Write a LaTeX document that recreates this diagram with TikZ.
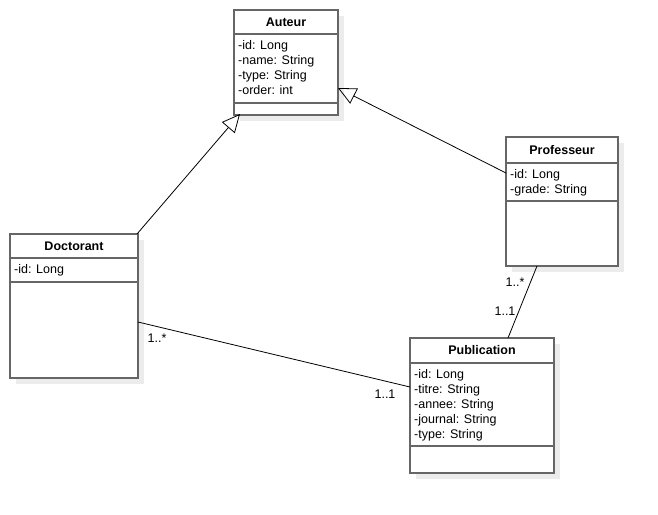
\documentclass[tikz,border=0pt]{standalone}
\usepackage{fontspec}
\setmainfont{Liberation Sans}
\usetikzlibrary{calc,arrows.meta}
\definecolor{boxline}{RGB}{102,102,102}
\definecolor{shadowc}{RGB}{236,236,236}
\tikzset{
  classbox/.style={draw=boxline, line width=1.5pt, fill=white, anchor=north west, inner sep=0pt, outer sep=0pt},
  classshadow/.style={fill=shadowc, draw=none, anchor=north west, inner sep=0pt, outer sep=0pt},
  divider/.style={draw=boxline, line width=1.5pt},
  ctitle/.style={font=\fontsize{12.5}{15}\selectfont\bfseries, anchor=center, inner sep=0pt},
  cattr/.style={font=\fontsize{12.5}{15}\selectfont, anchor=north west, align=left, inner sep=0pt},
  conn/.style={draw=black, line width=0.8pt},
  inherit/.style={conn, -{Triangle[open, length=18pt, width=17pt, line width=0.8pt]}},
  mult/.style={font=\fontsize{12.5}{15}\selectfont, inner sep=0pt},
}
\begin{document}
\begin{tikzpicture}[x=1pt,y=-1pt]
\path[fill=white] (0,0) rectangle (658,514);
\useasboundingbox (0,0) rectangle (658,514);

% shadows
\node[classshadow, minimum width=104pt, minimum height=105pt] (auteurS) at (240,16) {};
\node[classshadow, minimum width=112pt, minimum height=129pt] (profS) at (512,143) {};
\node[classshadow, minimum width=128pt, minimum height=144pt] (doctS) at (16,240) {};
\node[classshadow, minimum width=144pt, minimum height=135pt] (pubS) at (416,344) {};

% Auteur
\node[classbox, minimum width=104pt, minimum height=105pt] (auteur) at (234,10) {};
\node[ctitle] (auteurT) at ($(auteur.north)+(0,12)$) {Auteur};
\draw[divider] ($(auteur.north west)+(0,24)$) -- ($(auteur.north east)+(0,24)$);
\node[cattr] (auteurA) at ($(auteur.north west)+(4,30.5)$) {-id: Long\\-name: String\\-type: String\\-order: int};
\draw[divider] ($(auteur.north west)+(0,93)$) -- ($(auteur.north east)+(0,93)$);

% Professeur
\node[classbox, minimum width=112pt, minimum height=129pt] (prof) at (506,137) {};
\node[ctitle] (profT) at ($(prof.north)+(0,13)$) {Professeur};
\draw[divider] ($(prof.north west)+(0,26)$) -- ($(prof.north east)+(0,26)$);
\node[cattr] (profA) at ($(prof.north west)+(4,32)$) {-id: Long\\-grade: String};
\draw[divider] ($(prof.north west)+(0,64)$) -- ($(prof.north east)+(0,64)$);

% Doctorant
\node[classbox, minimum width=128pt, minimum height=144pt] (doct) at (10,234) {};
\node[ctitle] (doctT) at ($(doct.north)+(0,12)$) {Doctorant};
\draw[divider] ($(doct.north west)+(0,24)$) -- ($(doct.north east)+(0,24)$);
\node[cattr] (doctA) at ($(doct.north west)+(4,30.5)$) {-id: Long};
\draw[divider] ($(doct.north west)+(0,48)$) -- ($(doct.north east)+(0,48)$);

% Publication
\node[classbox, minimum width=144pt, minimum height=135pt] (pub) at (410,338) {};
\node[ctitle] (pubT) at ($(pub.north)+(0,12.5)$) {Publication};
\draw[divider] ($(pub.north west)+(0,25)$) -- ($(pub.north east)+(0,25)$);
\node[cattr] (pubA) at ($(pub.north west)+(4,31)$) {-id: Long\\-titre: String\\-annee: String\\-journal: String\\-type: String};
\draw[divider] ($(pub.north west)+(0,108)$) -- ($(pub.north east)+(0,108)$);

% connector endpoints on the boxes
\coordinate (dTR) at ($(doct.north east)+(-1,0)$);
\coordinate (aB) at ($(auteur.south west)+(6,-1)$);
\coordinate (pL) at ($(prof.north west)+(0,36)$);
\coordinate (aR) at ($(auteur.north east)+(0,78)$);
\coordinate (pB) at ($(prof.south west)+(31,0)$);
\coordinate (puT) at ($(pub.north west)+(98,0)$);
\coordinate (dR) at ($(doct.north east)+(0,88)$);
\coordinate (puL) at ($(pub.north west)+(0,49)$);

% inheritance
\draw[inherit] (dTR) -- (aB);
\draw[inherit] (pL) -- (aR);

% associations
\draw[conn] (pB) -- (puT);
\draw[conn] (dR) -- (puL);

% multiplicities
\node[mult] (m1) at (515,282) {1..*};
\node[mult] (m2) at (505,311) {1..1};
\node[mult] (m3) at (157,338) {1..*};
\node[mult] (m4) at (385,394) {1..1};
\end{tikzpicture}
\end{document}
